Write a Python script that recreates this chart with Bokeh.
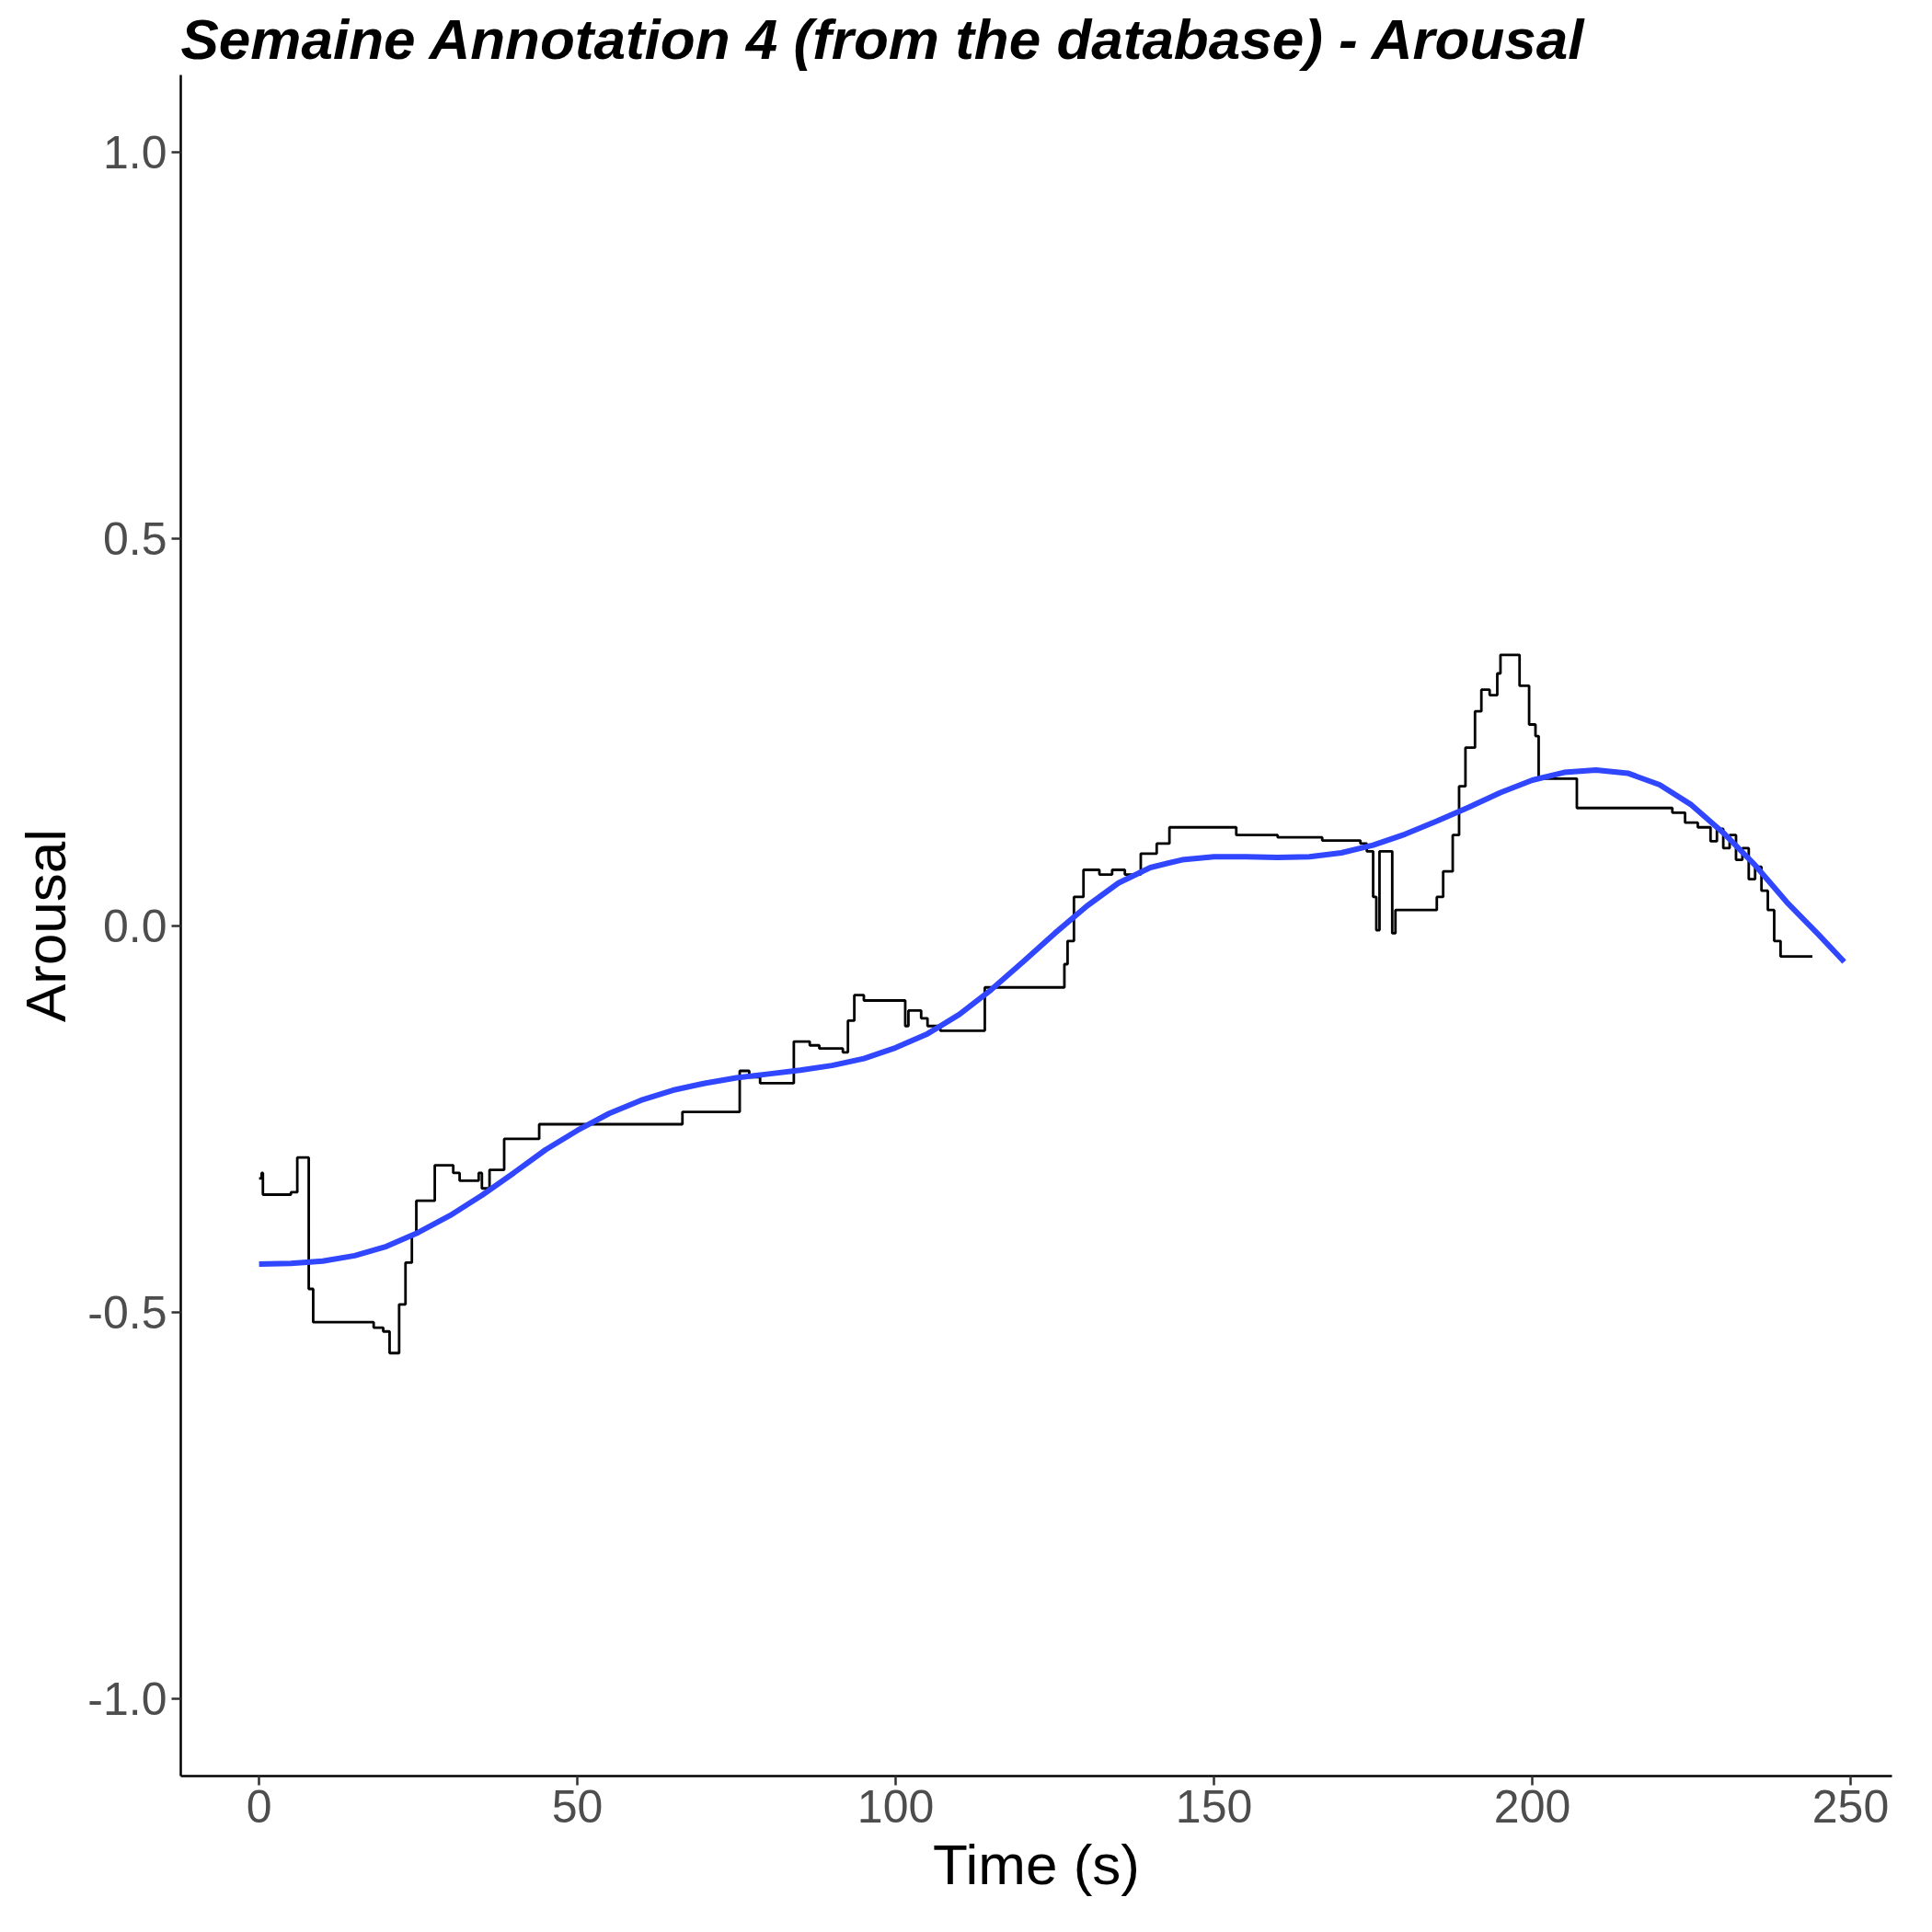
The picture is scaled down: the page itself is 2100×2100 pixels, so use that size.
from bokeh.plotting import figure
from bokeh.embed import file_html
from bokeh.resources import INLINE
from bokeh.models import Range1d, FixedTicker

t_raw = [0, 0.4, 0.6, 5, 6, 6.6, 7.8, 8.5, 12.6, 18, 19.5, 20.5, 21, 22, 23, 24, 24.7, 26.6, 27.6, 29.5, 30.5, 31.5, 34, 34.5, 35, 36.2, 38, 38.5, 44, 66.2, 66.5, 74.5, 75.5, 76.8, 77, 78.7, 83.7, 84, 86, 86.5, 88, 89, 91.7, 92.5, 93.5, 95, 100.7, 101.5, 102, 104, 105, 107, 113.3, 114, 125.4, 126.5, 127, 128, 129.5, 131.5, 132, 134, 136, 138, 138.5, 141, 142.4, 143, 153, 153.5, 159.6, 160, 166.3, 167, 173, 174, 175, 175.5, 176, 177, 178, 178.5, 179, 184.5, 185, 186, 187.5, 188.5, 189.5, 191, 192, 193.3, 194.5, 195, 197.5, 198, 199.5, 200.5, 201, 204.5, 207, 220.9, 222, 224, 226, 228, 229, 230, 231, 232, 233, 234, 235, 236, 237, 238, 239, 244]
v_raw = [-0.327, -0.32, -0.348, -0.345, -0.30, -0.30, -0.47, -0.513, -0.513, -0.52, -0.525, -0.553, -0.553, -0.49, -0.436, -0.40, -0.356, -0.356, -0.31, -0.31, -0.32, -0.33, -0.33, -0.32, -0.34, -0.316, -0.316, -0.276, -0.257, -0.257, -0.241, -0.241, -0.188, -0.188, -0.196, -0.204, -0.204, -0.15, -0.15, -0.155, -0.159, -0.159, -0.164, -0.123, -0.09, -0.097, -0.097, -0.13, -0.11, -0.12, -0.13, -0.136, -0.136, -0.08, -0.08, -0.05, -0.02, 0.037, 0.072, 0.072, 0.066, 0.072, 0.066, 0.066, 0.093, 0.106, 0.106, 0.127, 0.127, 0.117, 0.117, 0.114, 0.114, 0.110, 0.106, 0.096, 0.037, -0.006, 0.096, 0.096, -0.01, 0.02, 0.02, 0.02, 0.037, 0.07, 0.117, 0.18, 0.23, 0.277, 0.305, 0.298, 0.326, 0.35, 0.35, 0.31, 0.26, 0.245, 0.19, 0.19, 0.152, 0.152, 0.146, 0.133, 0.127, 0.109, 0.125, 0.10, 0.117, 0.085, 0.10, 0.06, 0.076, 0.045, 0.02, -0.02, -0.04, -0.04]

t_fit = [0, 5, 10, 15, 20, 25, 30, 35, 40, 45, 50, 55, 60, 65, 70, 75, 80, 85, 90, 95, 100, 105, 110, 115, 120, 125, 130, 135, 140, 145, 150, 155, 160, 165, 170, 175, 180, 185, 190, 195, 200, 205, 210, 215, 220, 225, 230, 235, 240, 245, 249]
v_fit = [-0.438, -0.437, -0.434, -0.427, -0.415, -0.397, -0.375, -0.349, -0.32, -0.29, -0.265, -0.243, -0.226, -0.213, -0.204, -0.197, -0.192, -0.187, -0.181, -0.172, -0.158, -0.14, -0.115, -0.083, -0.047, -0.01, 0.025, 0.055, 0.075, 0.085, 0.089, 0.089, 0.088, 0.089, 0.094, 0.104, 0.118, 0.135, 0.153, 0.172, 0.188, 0.198, 0.201, 0.197, 0.182, 0.156, 0.12, 0.078, 0.03, -0.012, -0.047]

x_ticks = [0, 50, 100, 150, 200, 250]
y_ticks = [-1.0, -0.5, 0.0, 0.5, 1.0]

p = figure(width=2080, height=2080, output_backend="svg", toolbar_location=None,
           x_range=Range1d(-12.3, 256.5), y_range=Range1d(-1.1, 1.1),
           min_border_left=196, min_border_right=24, min_border_top=50, min_border_bottom=150,
           title="Semaine Annotation 4 (from the database) - Arousal")
p.title.text_font = "Liberation Sans"
p.title.text_font_style = "bold italic"
p.title.text_font_size = "62px"
p.title.text_color = "black"
p.title.offset = 0
p.outline_line_color = None
p.xgrid.visible = False
p.ygrid.visible = False
p.background_fill_color = "white"

p.step(t_raw, v_raw, mode="after", line_color="black", line_width=2.8)
p.line(t_fit, v_fit, line_color="#3046FF", line_width=6)

for ax in (p.xaxis[0], p.yaxis[0]):
    ax.axis_line_color = "black"
    ax.axis_line_width = 2.5
    ax.major_tick_line_color = "#333333"
    ax.major_tick_line_width = 2.5
    ax.major_tick_out = 10
    ax.major_tick_in = 0
    ax.minor_tick_line_color = None
    ax.major_label_text_font = "Liberation Sans"
    ax.major_label_text_font_size = "50px"
    ax.major_label_text_color = "#4D4D4D"
    ax.axis_label_text_font = "Liberation Sans"
    ax.axis_label_text_font_size = "62px"
    ax.axis_label_text_font_style = "normal"
    ax.axis_label_text_color = "black"
    ax.axis_label_standoff = 8
p.xaxis.ticker = FixedTicker(ticks=x_ticks)
p.yaxis.ticker = FixedTicker(ticks=y_ticks)
p.yaxis.major_label_overrides = {v: f"{v:.1f}" for v in y_ticks}
p.xaxis.axis_label = "Time (s)"
p.yaxis.axis_label = "Arousal"

open("out.html", "w").write(file_html(p, INLINE))
